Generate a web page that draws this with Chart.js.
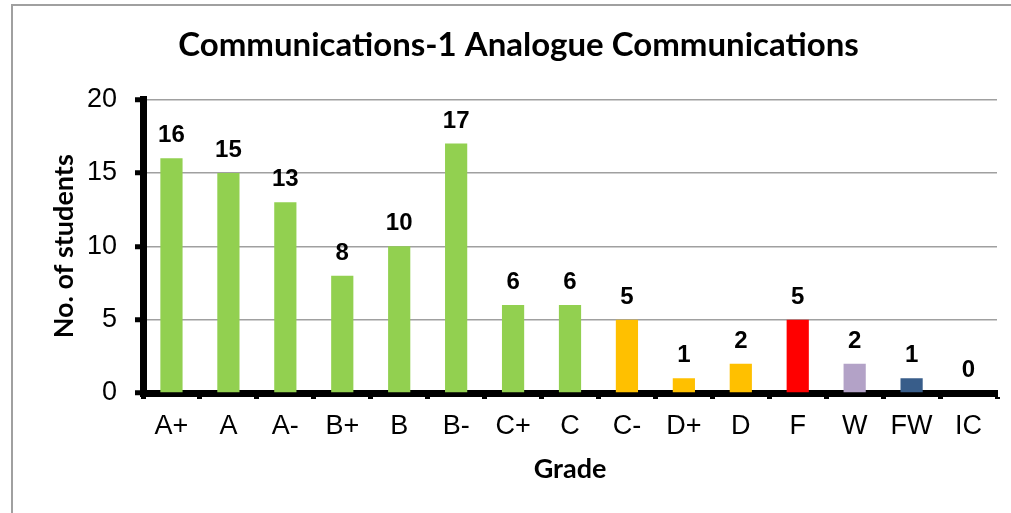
<!DOCTYPE html>
<html>
<head>
<meta charset="utf-8">
<script src="https://cdn.jsdelivr.net/npm/chart.js@4"></script>
<style>
  html, body { margin: 0; padding: 0; background: #fff; overflow: hidden; }
  #frame { position: absolute; left: 11px; top: 4px; width: 1100px; height: 600px; border: 2px solid #a0a0a0; }
  #wrap { position: absolute; left: 0; top: 0; width: 1011px; height: 513px; }
</style>
</head>
<body>
<div id="frame"></div>
<div id="wrap"><canvas id="chart"></canvas></div>
<script>
(function() {
  'use strict';

  var grades = ['A+', 'A', 'A-', 'B+', 'B', 'B-', 'C+', 'C', 'C-', 'D+', 'D', 'F', 'W', 'FW', 'IC'];
  var students = [16, 15, 13, 8, 10, 17, 6, 6, 5, 1, 2, 5, 2, 1, 0];
  var barColors = ['#92d050', '#92d050', '#92d050', '#92d050', '#92d050', '#92d050', '#92d050', '#92d050',
                   '#ffc000', '#ffc000', '#ffc000', '#ff0000', '#b3a2c7', '#385d8a', '#385d8a'];
  var yTicks = [0, 5, 10, 15, 20];

  var arial = "'Liberation Sans', Arial, sans-serif";
  var calibri = "Lato, 'Open Sans', sans-serif";

  // value labels above each bar
  var valueLabels = {
    id: 'valueLabels',
    afterDatasetsDraw: function(chart) {
      var ctx = chart.ctx;
      var meta = chart.getDatasetMeta(0);
      ctx.save();
      ctx.font = 'bold 24px ' + arial;
      ctx.fillStyle = '#000';
      ctx.textAlign = 'center';
      ctx.textBaseline = 'alphabetic';
      meta.data.forEach(function(bar, i) {
        ctx.fillText(String(students[i]), bar.x, bar.y - 16);
      });
      ctx.restore();
    }
  };

  // original title is centred on the wider frame, nudge it right
  var titleShift = {
    id: 'titleShift',
    afterLayout: function(chart) {
      if (chart.titleBlock) chart.titleBlock.left += 28;
    }
  };

  new Chart(document.getElementById('chart').getContext('2d'), {
    type: 'bar',
    data: {
      labels: grades,
      datasets: [{
        data: students,
        backgroundColor: barColors,
        borderWidth: 0,
        categoryPercentage: 1,
        barPercentage: 0.39
      }]
    },
    options: {
      responsive: true,
      maintainAspectRatio: false,
      animation: false,
      layout: { padding: { left: 12, right: 14, top: 0, bottom: 0 } },
      scales: {
        x: {
          afterFit: function(scale) { scale.height = 120; },
          grid: {
            offset: true,
            drawOnChartArea: false,
            drawTicks: true,
            tickLength: 6,
            tickWidth: 5,
            tickColor: '#000'
          },
          border: { display: true, color: '#000', width: 7 },
          ticks: {
            color: '#000',
            padding: 11,
            font: { family: arial, size: 27 }
          },
          title: {
            display: true,
            text: 'Grade',
            color: '#000',
            padding: { top: 0, bottom: 28 },
            font: { family: calibri, size: 27, weight: 'bold' }
          }
        },
        y: {
          min: 0,
          max: 20,
          afterFit: function(scale) { scale.width = 131; },
          afterBuildTicks: function(scale) {
            scale.ticks = yTicks.map(function(v) { return { value: v }; });
          },
          grid: {
            color: '#a0a0a0',
            lineWidth: 1.5,
            drawTicks: true,
            tickLength: 8,
            tickWidth: 5,
            tickColor: '#000'
          },
          border: { display: true, color: '#000', width: 7 },
          ticks: {
            color: '#000',
            padding: 18,
            font: { family: arial, size: 27 }
          },
          title: {
            display: true,
            text: 'No. of students',
            color: '#000',
            padding: { top: 36, bottom: 0 },
            font: { family: calibri, size: 27, weight: 'bold' }
          }
        }
      },
      plugins: {
        legend: { display: false },
        tooltip: { enabled: false },
        title: {
          display: true,
          text: 'Communications-1 Analogue Communications',
          color: '#000',
          padding: { top: 26, bottom: 34 },
          font: { family: calibri, size: 33, weight: 'bold' }
        }
      }
    },
    plugins: [valueLabels, titleShift]
  });
})();
</script>
</body>
</html>
